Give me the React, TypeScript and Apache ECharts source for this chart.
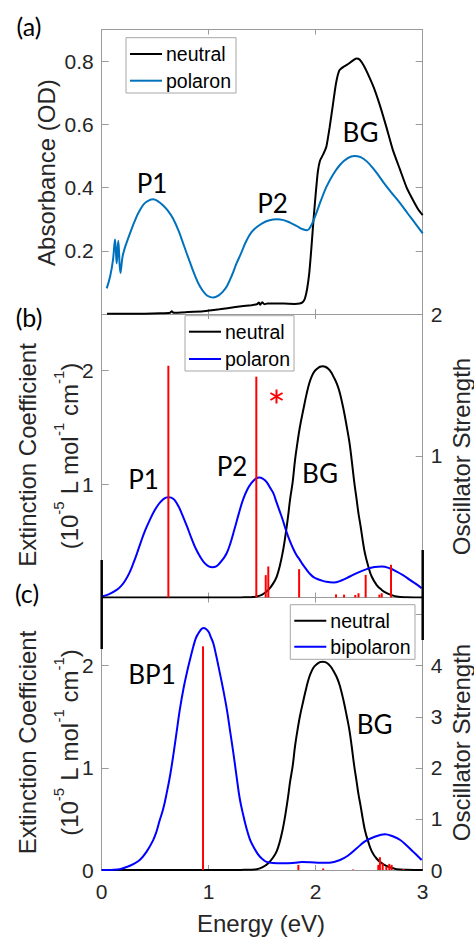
import React, { useEffect, useRef } from 'react';
import * as echarts from 'echarts';

// ---------- Panel (a): measured absorbance (OD) vs energy (eV) ----------
const neutralA: [number, number][] = [
  [0.05, 0.001], [0.2, 0.001], [0.4, 0.001], [0.55, 0.002], [0.64, 0.004], [0.655, 0.009],
  [0.67, 0.004], [0.8, 0.006], [0.95, 0.009], [1.1, 0.015], [1.25, 0.022], [1.4, 0.028],
  [1.45, 0.031], [1.47, 0.036], [1.48, 0.029], [1.5, 0.037], [1.52, 0.031], [1.55, 0.033],
  [1.6, 0.033], [1.7, 0.033], [1.8, 0.032], [1.85, 0.033], [1.88, 0.038], [1.9, 0.05],
  [1.92, 0.08], [1.94, 0.13], [1.96, 0.21], [1.98, 0.3], [2.0, 0.38], [2.02, 0.45],
  [2.04, 0.485], [2.07, 0.505], [2.1, 0.53], [2.13, 0.59], [2.16, 0.66], [2.19, 0.73],
  [2.22, 0.77], [2.26, 0.782], [2.3, 0.79], [2.34, 0.8], [2.38, 0.808], [2.41, 0.805],
  [2.45, 0.785], [2.5, 0.75], [2.55, 0.71], [2.6, 0.66], [2.66, 0.592], [2.72, 0.52],
  [2.79, 0.455], [2.85, 0.4], [2.91, 0.36], [2.96, 0.33], [3.0, 0.313],
];
const polaronA: [number, number][] = [
  [0.047, 0.081], [0.078, 0.118], [0.105, 0.17], [0.125, 0.236], [0.14, 0.16], [0.155, 0.232],
  [0.175, 0.13], [0.2, 0.19], [0.265, 0.256], [0.326, 0.308], [0.358, 0.329], [0.4, 0.35],
  [0.45, 0.361], [0.48, 0.363], [0.52, 0.358], [0.57, 0.345], [0.62, 0.326], [0.67, 0.3],
  [0.72, 0.262], [0.77, 0.215], [0.82, 0.168], [0.87, 0.123], [0.92, 0.086], [0.97, 0.063],
  [1.01, 0.054], [1.045, 0.052], [1.09, 0.058], [1.13, 0.07], [1.17, 0.088], [1.22, 0.125],
  [1.26, 0.16], [1.3, 0.19], [1.35, 0.23], [1.4, 0.259], [1.45, 0.275], [1.5, 0.287],
  [1.56, 0.296], [1.64, 0.3], [1.7, 0.297], [1.76, 0.289], [1.82, 0.279], [1.88, 0.268],
  [1.92, 0.265], [1.95, 0.275], [1.99, 0.305], [2.05, 0.36], [2.1, 0.402], [2.16, 0.44],
  [2.23, 0.473], [2.3, 0.493], [2.36, 0.5], [2.42, 0.496], [2.48, 0.482], [2.55, 0.455],
  [2.63, 0.418], [2.7, 0.387], [2.79, 0.35], [2.86, 0.318], [2.93, 0.287], [3.0, 0.255],
];

// ---------- Panels (b) and (c): calculated extinction coefficient (1e5 L/mol/cm) ----------
const neutralCalc: [number, number][] = [
  [0, 0], [1.2, 0], [1.3, 0.001], [1.4, 0.003], [1.45, 0.008], [1.5, 0.025], [1.557, 0.067],
  [1.6, 0.12], [1.636, 0.185], [1.665, 0.28], [1.69, 0.39], [1.71, 0.5], [1.729, 0.626],
  [1.745, 0.74], [1.76, 0.861], [1.785, 1.02], [1.807, 1.214], [1.83, 1.37], [1.853, 1.508],
  [1.885, 1.66], [1.916, 1.8], [1.94, 1.89], [1.963, 1.95], [1.985, 1.99], [2.01, 2.015],
  [2.04, 2.035], [2.065, 2.04], [2.09, 2.035], [2.12, 2.015], [2.145, 1.985], [2.165, 1.95],
  [2.2, 1.88], [2.227, 1.8], [2.26, 1.66], [2.29, 1.508], [2.315, 1.37], [2.336, 1.214],
  [2.36, 1.02], [2.383, 0.861], [2.4, 0.74], [2.42, 0.626], [2.44, 0.5], [2.46, 0.39],
  [2.49, 0.28], [2.523, 0.185], [2.57, 0.11], [2.617, 0.067], [2.66, 0.04], [2.7, 0.025],
  [2.757, 0.008], [2.85, 0.002], [3.0, 0],
];
const polaronB: [number, number][] = [
  [0, 0.01], [0.07, 0.03], [0.14, 0.067], [0.18, 0.1], [0.22, 0.15], [0.26, 0.22], [0.295, 0.3],
  [0.33, 0.39], [0.37, 0.5], [0.41, 0.6], [0.45, 0.685], [0.49, 0.76], [0.53, 0.82], [0.57, 0.862],
  [0.6, 0.88], [0.623, 0.885], [0.65, 0.88], [0.68, 0.86], [0.72, 0.8], [0.76, 0.714], [0.8, 0.62],
  [0.84, 0.52], [0.88, 0.43], [0.92, 0.36], [0.96, 0.305], [1.0, 0.275], [1.037, 0.267],
  [1.07, 0.275], [1.1, 0.3], [1.135, 0.34], [1.168, 0.39], [1.2, 0.47], [1.24, 0.6], [1.28, 0.735],
  [1.32, 0.861], [1.36, 0.95], [1.4, 1.01], [1.44, 1.048], [1.473, 1.058], [1.51, 1.045],
  [1.54, 1.02], [1.57, 0.975], [1.604, 0.92], [1.63, 0.85], [1.66, 0.77], [1.69, 0.69],
  [1.72, 0.6], [1.75, 0.52], [1.79, 0.43], [1.82, 0.375], [1.853, 0.33], [1.88, 0.29],
  [1.916, 0.244], [1.95, 0.205], [1.98, 0.18], [2.01, 0.165], [2.04, 0.155], [2.1, 0.138],
  [2.165, 0.132], [2.24, 0.15], [2.32, 0.185], [2.4, 0.222], [2.477, 0.25], [2.55, 0.268],
  [2.617, 0.273], [2.69, 0.258], [2.757, 0.229], [2.82, 0.195], [2.88, 0.155], [2.94, 0.118],
  [2.99, 0.082],
];
const bipolaronC: [number, number][] = [
  [0, 0], [0.15, 0.005], [0.234, 0.03], [0.3, 0.06], [0.358, 0.1], [0.42, 0.18], [0.48, 0.29],
  [0.51, 0.37], [0.54, 0.48], [0.575, 0.6], [0.607, 0.75], [0.64, 0.93], [0.67, 1.13],
  [0.7, 1.35], [0.73, 1.57], [0.765, 1.78], [0.8, 1.95], [0.83, 2.08], [0.857, 2.19],
  [0.88, 2.27], [0.9, 2.31], [0.925, 2.35], [0.95, 2.37], [0.975, 2.36], [1.0, 2.33],
  [1.02, 2.28], [1.043, 2.22], [1.07, 2.1], [1.1, 1.95], [1.135, 1.77], [1.17, 1.57],
  [1.2, 1.36], [1.23, 1.15], [1.26, 0.92], [1.29, 0.7], [1.32, 0.55], [1.35, 0.42],
  [1.385, 0.3], [1.417, 0.23], [1.45, 0.17], [1.479, 0.13], [1.51, 0.1], [1.54, 0.08],
  [1.6, 0.068], [1.7, 0.065], [1.8, 0.07], [1.87, 0.078], [1.95, 0.077], [2.04, 0.07],
  [2.13, 0.072], [2.227, 0.098], [2.3, 0.14], [2.383, 0.212], [2.46, 0.28], [2.54, 0.32],
  [2.648, 0.35], [2.72, 0.33], [2.79, 0.294], [2.85, 0.24], [2.91, 0.18], [2.99, 0.098],
];

// ---------- Oscillator strengths (red sticks) ----------
const sticksB: [number, number][] = [
  [0.623, 1.635], [1.445, 1.558], [1.533, 0.158], [1.557, 0.219], [1.845, 0.2], [2.19, 0.022],
  [2.265, 0.02], [2.37, 0.018], [2.4, 0.03], [2.467, 0.16], [2.595, 0.02], [2.617, 0.03],
  [2.704, 0.231],
];
const sticksC: [number, number][] = [
  [0.947, 4.38], [1.838, 0.1], [2.07, 0.03], [2.35, 0.01], [2.585, 0.1], [2.6, 0.25],
  [2.626, 0.13], [2.66, 0.07], [2.688, 0.12], [2.71, 0.1], [2.82, 0.02],
];

const xTicks = ['0', '1', '2', '3'];
const legendA = [{ name: 'neutral', color: '#000' }, { name: 'polaron', color: '#0072BD' }];
const legendB = [{ name: 'neutral', color: '#000' }, { name: 'polaron', color: '#0000ff' }];
const legendC = [{ name: 'neutral', color: '#000' }, { name: 'bipolaron', color: '#0000ff' }];

const TF = '"Liberation Sans", Arial, sans-serif';
const AF = 'Lato, "Open Sans", sans-serif';
const AXC = '#9a9a9a';
const LBC = '#262626';

const GL = 101.7;
const GW = 321;
const grids = [
  { top: 29.5, height: 284.5 },
  { top: 314, height: 283.5 },
  { top: 597.5, height: 272.5 },
];

function xAx(grid: number, pos: 'bottom' | 'top', labels: boolean) {
  return {
    type: 'value', gridIndex: grid, position: pos, min: 0, max: 3, interval: 1,
    axisLine: { show: true, onZero: false, lineStyle: { color: pos === 'bottom' && grid < 2 ? '#6e6e6e' : AXC, width: 1 } },
    axisTick: { show: true, inside: true, length: 5, lineStyle: { color: AXC } },
    axisLabel: {
      show: labels, margin: 11, color: LBC, fontFamily: TF, fontSize: 21,
      formatter: (v: number) => (Math.abs(v - Math.round(v)) < 1e-6 ? xTicks[Math.round(v)] ?? '' : ''),
    },
    splitLine: { show: false },
  };
}

function yAx(grid: number, pos: 'left' | 'right', min: number, max: number, interval: number,
  fmt: ((v: number) => string) | null) {
  return {
    type: 'value', gridIndex: grid, position: pos, min, max, interval,
    axisLine: { show: true, onZero: false, lineStyle: { color: AXC, width: 1 } },
    axisTick: { show: true, inside: true, length: 7, lineStyle: { color: AXC } },
    axisLabel: {
      show: fmt !== null, margin: 8, color: LBC, fontFamily: TF, fontSize: 21,
      formatter: fmt || undefined,
    },
    splitLine: { show: false },
  };
}

const isTick = (v: number, step: number) => Math.abs(v / step - Math.round(v / step)) < 1e-6;

const stickRender = (params: any, api: any) => {
  const p0 = api.coord([api.value(0), 0]);
  const p1 = api.coord([api.value(0), api.value(1)]);
  return {
    type: 'line',
    shape: { x1: p0[0], y1: p0[1], x2: p1[0], y2: p1[1] },
    style: { stroke: '#ff0000', lineWidth: 2 },
  };
};

function lineSeries(name: string, data: [number, number][], xi: number, yi: number, color: string, smooth: number) {
  return {
    type: 'line', name, data, xAxisIndex: xi, yAxisIndex: yi, showSymbol: false, symbol: 'none',
    smooth, lineStyle: { color, width: 2 }, itemStyle: { color }, z: 3,
  };
}

function legendGraphic(x: number, y: number, w: number, h: number, rows: number[], lineW: number,
  items: { name: string; color: string }[]) {
  const children: any[] = [
    { type: 'rect', shape: { x: 0, y: 0, width: w, height: h }, style: { fill: '#fff', stroke: '#a6a6a6', lineWidth: 1 } },
  ];
  items.forEach((it, i) => {
    children.push({ type: 'line', shape: { x1: 4, y1: rows[i], x2: 4 + lineW, y2: rows[i] }, style: { stroke: it.color, lineWidth: 2 } });
    children.push({
      type: 'text', x: 4 + lineW + 4, y: rows[i],
      style: { text: it.name, fontSize: 19.5, fontFamily: TF, fill: '#000', textAlign: 'left', textVerticalAlign: 'middle' },
    });
  });
  return { type: 'group', x, y, z: 20, silent: true, children };
}

function txt(x: number, y: number, text: string, size: number, family: string, fill = '#000', rotation = 0, rich?: any) {
  return {
    type: 'text', x, y, rotation, silent: true, z: 10,
    style: { text, fontSize: size, fontFamily: family, fill, textAlign: 'center', textVerticalAlign: 'middle', rich },
  };
}

const unitRich = {
  g: { fontSize: 24, lineHeight: 30, fontFamily: TF, fill: LBC, verticalAlign: 'bottom' },
  m: { fontSize: 24, lineHeight: 24, fontFamily: TF, fill: LBC, verticalAlign: 'bottom' },
  s: { fontSize: 15, lineHeight: 15, fontFamily: TF, fill: LBC, verticalAlign: 'top' },
};
const unitText = '{g|}{m|(10}{s|-5}{m| L mol}{s|-1}{m| cm}{s|-1}{m|)}';

function asterisk(cx: number, cy: number) {
  const r = 7;
  const a = Math.PI / 6;
  const st = { stroke: '#ff0000', lineWidth: 2 };
  return {
    type: 'group', x: cx, y: cy, silent: true, z: 10,
    children: [
      { type: 'line', shape: { x1: 0, y1: -r, x2: 0, y2: r }, style: st },
      { type: 'line', shape: { x1: -r * Math.cos(a), y1: -r * Math.sin(a), x2: r * Math.cos(a), y2: r * Math.sin(a) }, style: st },
      { type: 'line', shape: { x1: -r * Math.cos(a), y1: r * Math.sin(a), x2: r * Math.cos(a), y2: -r * Math.sin(a) }, style: st },
    ],
  };
}

export default function App() {
  const ref = useRef<HTMLDivElement>(null);
  useEffect(() => {
    if (!ref.current) return;
    const chart = echarts.init(ref.current, undefined, { renderer: 'svg' });
    const option: any = {
      animation: false,
      backgroundColor: '#fff',
      grid: grids.map((g) => ({ left: GL, width: GW, top: g.top, height: g.height, outerBoundsMode: 'none', containLabel: false })),
      xAxis: [
        xAx(0, 'bottom', false), xAx(0, 'top', false),
        xAx(1, 'bottom', false), xAx(1, 'top', false),
        xAx(2, 'bottom', true), xAx(2, 'top', false),
      ],
      yAxis: [
        yAx(0, 'left', 0, 0.9, 0.2, (v) => (v > 0 && v < 0.85 && isTick(v, 0.2) ? v.toFixed(1) : '')),
        yAx(0, 'right', 0, 0.9, 0.2, null),
        yAx(1, 'left', 0, 2.5, 1, (v) => (v > 0 && isTick(v, 1) ? String(v) : '')),
        yAx(1, 'right', 0, 2, 1, (v) => (v > 0 && isTick(v, 1) ? String(v) : '')),
        yAx(2, 'left', 0, 2.668, 1, (v) => (isTick(v, 1) ? String(v) : '')),
        yAx(2, 'right', 0, 5.336, 1, (v) => (v <= 4 && isTick(v, 1) ? String(v) : '')),
      ],
      series: [
        lineSeries('neutral', neutralA, 0, 0, '#000', 0.2),
        lineSeries('polaron', polaronA, 0, 0, '#0072BD', 0.4),
        lineSeries('neutral', neutralCalc, 2, 2, '#000', 0.4),
        lineSeries('polaron', polaronB, 2, 2, '#0000ff', 0.4),
        { type: 'custom', name: 'osc-b', xAxisIndex: 2, yAxisIndex: 3, data: sticksB, renderItem: stickRender, encode: { x: 0, y: 1 }, z: 4 },
        lineSeries('neutral', neutralCalc, 4, 4, '#000', 0.4),
        lineSeries('bipolaron', bipolaronC, 4, 4, '#0000ff', 0.4),
        { type: 'custom', name: 'osc-c', xAxisIndex: 4, yAxisIndex: 5, data: sticksC, renderItem: stickRender, encode: { x: 0, y: 1 }, z: 4 },
      ],
      graphic: [
        legendGraphic(126, 37.7, 110, 55.3, [16.3, 43], 32, legendA),
        legendGraphic(185, 315.7, 109, 55.3, [16, 43.3], 32, legendB),
        legendGraphic(290.3, 604.7, 124.7, 54.6, [16, 42], 32, legendC),
        txt(29, 26, '(a)', 25, AF),
        txt(29, 317, '(b)', 25, AF),
        txt(27, 593, '(c)', 25, AF),
        txt(46.7, 172.6, 'Absorbance (OD)', 24, TF, LBC, Math.PI / 2),
        txt(27.5, 455, 'Extinction Coefficient', 24, TF, LBC, Math.PI / 2),
        txt(66, 456, unitText, 24, TF, LBC, Math.PI / 2, unitRich),
        txt(461.7, 456.5, 'Oscillator Strength', 24, TF, LBC, Math.PI / 2),
        txt(27.5, 742.5, 'Extinction Coefficient', 24, TF, LBC, Math.PI / 2),
        txt(66, 742.5, unitText, 24, TF, LBC, Math.PI / 2, unitRich),
        txt(461, 742.5, 'Oscillator Strength', 24, TF, LBC, Math.PI / 2),
        txt(261, 923, 'Energy (eV)', 24, TF, LBC),
        txt(152, 183, 'P1', 26, AF),
        txt(272.5, 203.3, 'P2', 26, AF),
        txt(360.5, 132, 'BG', 26, AF),
        txt(143.5, 479, 'P1', 26, AF),
        txt(232, 466, 'P2', 26, AF),
        txt(320, 472.5, 'BG', 26, AF),
        txt(152, 674, 'BP1', 26, AF),
        txt(374.7, 724, 'BG', 26, AF),
        asterisk(276.5, 396.5),
        { type: 'line', silent: true, z: 9, shape: { x1: GL, y1: 560, x2: GL, y2: 649 }, style: { stroke: '#000', lineWidth: 2.5 } },
        { type: 'line', silent: true, z: 9, shape: { x1: GL + GW, y1: 550, x2: GL + GW, y2: 640 }, style: { stroke: '#000', lineWidth: 2.5 } },
      ],
    };
    chart.setOption(option);
    return () => chart.dispose();
  }, []);
  return <div ref={ref} style={{ position: 'absolute', left: 0, top: 0, width: 474, height: 937 }} />;
}
